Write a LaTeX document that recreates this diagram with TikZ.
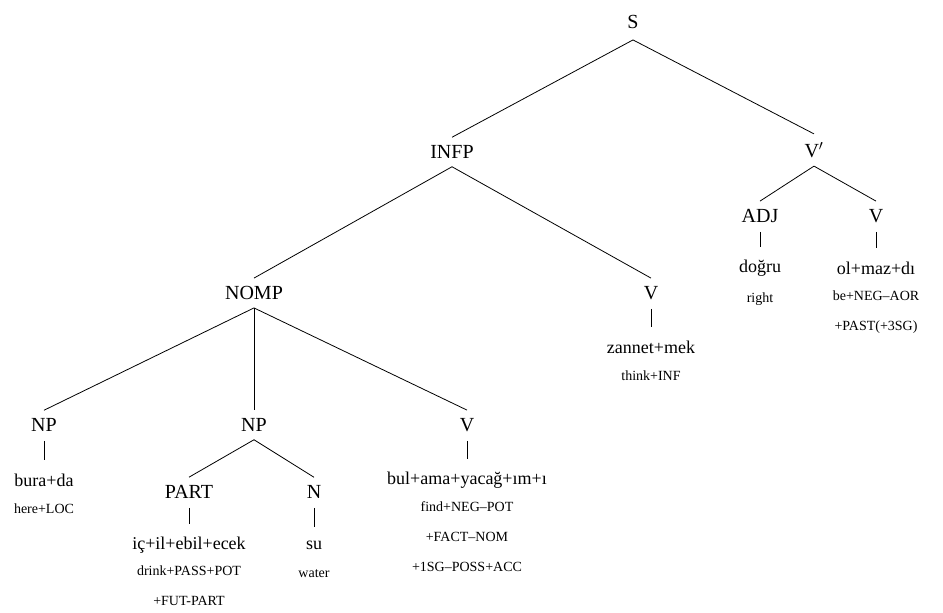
\documentclass[tikz,border=0pt]{standalone}
\usepackage{fontspec}
\setmainfont{Liberation Serif}
\tikzset{
  cat/.style={font=\fontsize{20}{22}\selectfont, inner xsep=2pt, inner ysep=8pt},
  word/.style={font=\fontsize{18}{20}\selectfont, inner sep=3pt},
  gloss/.style={font=\fontsize{14}{30}\selectfont, align=center, inner sep=2pt},
  branch/.style={line width=0.8pt},
  bar/.style={line width=0.7pt, shorten <=1pt, shorten >=10pt}
}
\begin{document}
\begin{tikzpicture}[x=1pt, y=-1pt]
  \useasboundingbox (0,0) rectangle (943,613);

  % top of the tree
  \node[cat] (s) at (633,22) {S};
  \node[cat] (infp) at (452,152) {INFP};
  \node[cat] (vbar) at (814,150) {V$'$};
  \draw[branch] ([yshift=-3pt]s.south) -- (infp.north);
  \draw[branch] ([yshift=-3pt]s.south) -- (vbar.north);

  % V' and its daughters
  \node[cat] (adj) at (760,216) {ADJ};
  \node[cat] (vol) at (876,216) {V};
  \draw[branch] (vbar.south) -- (adj.north);
  \draw[branch] (vbar.south) -- (vol.north);
  \node[word] (dogru) at (760,268) {doğru};
  \node[gloss] (right) at (760,299) {right};
  \draw[bar] (adj) -- (dogru);
  \node[word] (olmaz) at (876,268) {ol+maz+dı};
  \node[gloss, anchor=north] (benegaor) at (876,289) {be+NEG–AOR\\+PAST(+3SG)};
  \draw[bar] (vol) -- (olmaz);

  % INFP
  \node[cat] (nomp) at (254,293) {NOMP};
  \node[cat] (vzan) at (651,293) {V};
  \draw[branch] (infp.south) -- (nomp.north);
  \draw[branch] (infp.south) -- (vzan.north);
  \node[word] (zannet) at (651,347) {zannet+mek};
  \node[gloss] (thinkinf) at (651,376) {think+INF};
  \draw[bar] (vzan) -- (zannet);

  % NOMP
  \node[cat] (npbura) at (44,425) {NP};
  \node[cat] (npsu) at (254,425) {NP};
  \node[cat] (vbul) at (467,425) {V};
  \draw[branch] (nomp.south) -- (npbura.north);
  \draw[branch] (nomp.south) -- (npsu.north);
  \draw[branch] (nomp.south) -- (vbul.north);

  \node[word] (burada) at (44,480) {bura+da};
  \node[gloss] (hereloc) at (44,509) {here+LOC};
  \draw[bar] (npbura) -- (burada);

  \node[word] (bulama) at (467,480) {bul+ama+yacağ+ım+ı};
  \node[gloss, anchor=north] (findneg) at (467,499) {find+NEG–POT\\+FACT–NOM\\+1SG–POSS+ACC};
  \draw[bar] (vbul) -- (bulama);

  % NP with participle
  \node[cat] (part) at (189,492) {PART};
  \node[cat] (nsu) at (314,492) {N};
  \draw[branch] (npsu.south) -- (part.north);
  \draw[branch] (npsu.south) -- (nsu.north);
  \node[word] (icil) at (189,545) {iç+il+ebil+ecek};
  \node[gloss, anchor=north] (drink) at (189,564) {drink+PASS+POT\\+FUT-PART};
  \draw[bar] (part) -- (icil);
  \node[word] (su) at (314,545) {su};
  \node[gloss] (water) at (314,574) {water};
  \draw[bar] (nsu) -- (su);
\end{tikzpicture}
\end{document}
